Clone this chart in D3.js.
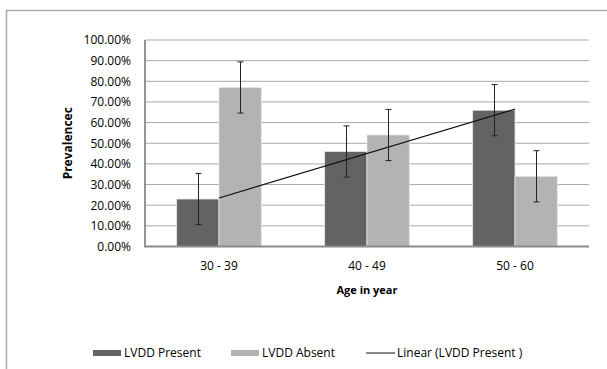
<!DOCTYPE html>
<html>
<head>
<meta charset="utf-8">
<script src="https://cdn.jsdelivr.net/npm/d3@7"></script>
<style>
  body { margin: 0; background: #fff; }
  svg { display: block; }
  text { font-family: "Open Sans", sans-serif; fill: #000; }
</style>
</head>
<body>
<svg id="chart"></svg>
<script>
// chart data
const categories = ["30 - 39", "40 - 49", "50 - 60"];
const seriesNames = ["LVDD Present", "LVDD Absent"];
const presentValues = [0.23, 0.46, 0.66];
const absentValues = [0.77, 0.54, 0.34];
const presentErrors = [0.124, 0.124, 0.124];
const absentErrors = [0.124, 0.124, 0.124];
const yTicks = [0, 0.1, 0.2, 0.3, 0.4, 0.5, 0.6, 0.7, 0.8, 0.9, 1.0];
const trendName = "Linear (LVDD Present )";

const width = 607, height = 369;
const plot = { left: 145, right: 589, top: 40, bottom: 246.5 };
const colors = ["#636363", "#b3b3b3"];

const svg = d3.select("#chart")
    .attr("width", width)
    .attr("height", height);

// outer frame (only top and left edges visible)
svg.append("path")
    .attr("d", `M6.5,${height} V10.5 H${width}`)
    .attr("fill", "none")
    .attr("stroke", "#ababab")
    .attr("stroke-width", 1.5);

const x = d3.scaleBand()
    .domain(categories)
    .range([plot.left, plot.right])
    .paddingInner(0.428)
    .paddingOuter(0.214);

const xs = d3.scaleBand()
    .domain(seriesNames)
    .range([0, x.bandwidth()]);

const y = d3.scaleLinear()
    .domain([0, 1])
    .range([plot.bottom, plot.top]);

// gridlines
svg.append("g")
    .selectAll("line")
    .data(yTicks.filter(d => d > 0))
    .join("line")
    .attr("x1", plot.left)
    .attr("x2", plot.right)
    .attr("y1", d => y(d))
    .attr("y2", d => y(d))
    .attr("stroke", "#a8a8a8")
    .attr("stroke-width", 1);

// y axis labels
const yAxis = svg.append("g")
    .attr("transform", `translate(${plot.left},0)`)
    .call(d3.axisLeft(y).tickValues(yTicks).tickFormat(d3.format(".2%")).tickSize(0).tickPadding(14));
yAxis.select(".domain").remove();
yAxis.selectAll("text")
    .style("font-family", "Open Sans, sans-serif")
    .style("font-size", "12px")
    .attr("fill", "#000");

// bars
const series = [
    { name: seriesNames[0], values: presentValues, errors: presentErrors, color: colors[0] },
    { name: seriesNames[1], values: absentValues, errors: absentErrors, color: colors[1] }
];

series.forEach(s => {
    const g = svg.append("g");
    g.selectAll("rect")
        .data(categories)
        .join("rect")
        .attr("x", (c) => x(c) + xs(s.name))
        .attr("y", (c, i) => y(s.values[i]))
        .attr("width", xs.bandwidth())
        .attr("height", (c, i) => y(0) - y(s.values[i]))
        .attr("fill", s.color)
        .attr("stroke", "#e6e6e6")
        .attr("stroke-width", 0.8);
});

// axes lines
svg.append("line")
    .attr("x1", plot.left).attr("x2", plot.left)
    .attr("y1", plot.top).attr("y2", plot.bottom)
    .attr("stroke", "#8a8a8a").attr("stroke-width", 1.8);
svg.append("line")
    .attr("x1", plot.left - 1).attr("x2", plot.right)
    .attr("y1", plot.bottom).attr("y2", plot.bottom)
    .attr("stroke", "#8a8a8a").attr("stroke-width", 1.8);

// linear trend line for LVDD Present (least squares on category index)
const n = presentValues.length;
const idx = d3.range(1, n + 1);
const mx = d3.mean(idx), my = d3.mean(presentValues);
const slope = d3.sum(idx, (k, i) => (k - mx) * (presentValues[i] - my)) / d3.sum(idx, k => (k - mx) ** 2);
const intercept = my - slope * mx;
const cx = c => x(c) + x.bandwidth() / 2;
svg.append("line")
    .attr("x1", cx(categories[0]))
    .attr("y1", y(intercept + slope * 1))
    .attr("x2", cx(categories[n - 1]))
    .attr("y2", y(intercept + slope * n))
    .attr("stroke", "#111")
    .attr("stroke-width", 1.2);

// error bars
series.forEach(s => {
    const g = svg.append("g").attr("stroke", "#222").attr("stroke-width", 1);
    categories.forEach((c, i) => {
        const bx = Math.round(x(c) + xs(s.name) + xs.bandwidth() / 2) + 0.5;
        const top = y(s.values[i] + s.errors[i]);
        const bot = y(s.values[i] - s.errors[i]);
        g.append("line").attr("x1", bx).attr("x2", bx).attr("y1", top).attr("y2", bot);
        g.append("line").attr("x1", bx - 3).attr("x2", bx + 3).attr("y1", top).attr("y2", top);
        g.append("line").attr("x1", bx - 3).attr("x2", bx + 3).attr("y1", bot).attr("y2", bot);
    });
});

// x axis labels
svg.append("g")
    .selectAll("text")
    .data(categories)
    .join("text")
    .attr("x", c => cx(c))
    .attr("y", 270)
    .attr("text-anchor", "middle")
    .style("font-size", "12px")
    .text(c => c);

// axis titles
svg.append("text")
    .attr("x", (plot.left + plot.right) / 2)
    .attr("y", 294)
    .attr("text-anchor", "middle")
    .style("font-size", "11px")
    .style("font-weight", "bold")
    .text("Age in year");

svg.append("text")
    .attr("transform", `translate(72,${(plot.top + plot.bottom) / 2}) rotate(-90)`)
    .attr("text-anchor", "middle")
    .style("font-size", "12px")
    .style("font-weight", "bold")
    .text("Prevalencec");

// legend
const legendY = 353;
const legend = svg.append("g");
[
    { x: 93, type: "rect", color: colors[0], label: seriesNames[0] },
    { x: 231, type: "rect", color: colors[1], label: seriesNames[1] },
    { x: 366, type: "line", color: "#111", label: trendName }
].forEach(item => {
    if (item.type === "rect") {
        legend.append("rect")
            .attr("x", item.x).attr("y", legendY - 3)
            .attr("width", 28).attr("height", 6)
            .attr("fill", item.color);
    } else {
        legend.append("line")
            .attr("x1", item.x).attr("x2", item.x + 29)
            .attr("y1", legendY).attr("y2", legendY)
            .attr("stroke", item.color).attr("stroke-width", 1);
    }
    legend.append("text")
        .attr("x", item.x + 31)
        .attr("y", legendY + 4)
        .style("font-size", "12px")
        .text(item.label);
});
</script>
</body>
</html>
